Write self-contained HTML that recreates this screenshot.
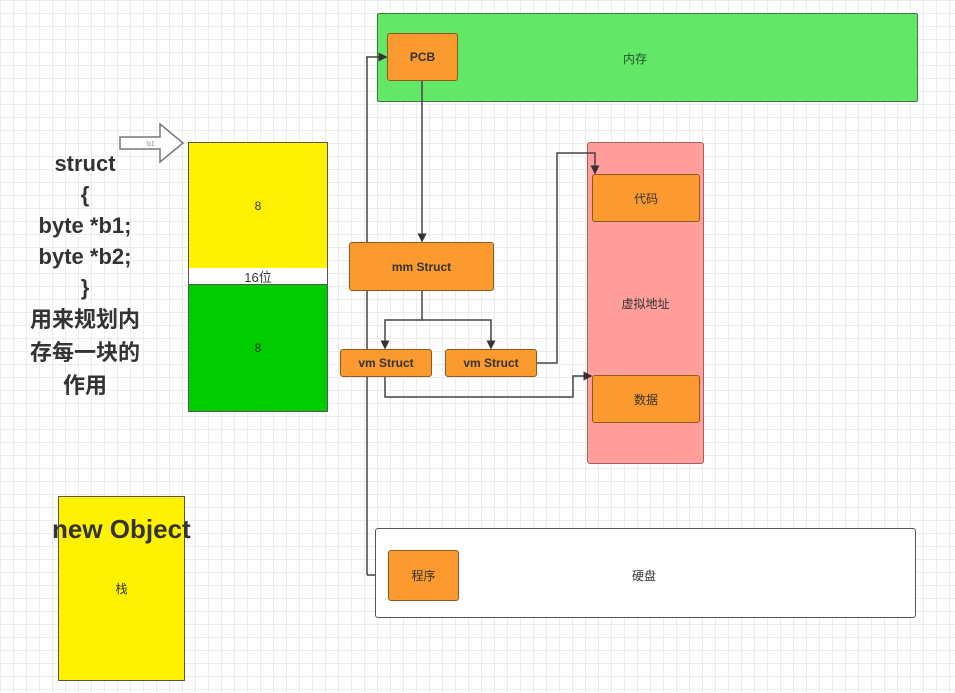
<!DOCTYPE html>
<html><head><meta charset="utf-8"><style>
body{margin:0;width:955px;height:693px;overflow:hidden;background:#fff;
background-image:linear-gradient(#ececec 1px,transparent 1px),linear-gradient(90deg,#ececec 1px,transparent 1px);
background-size:13px 13px;font-family:"Liberation Sans","Noto Sans CJK SC",sans-serif;position:relative}
.b{position:absolute;box-sizing:border-box;display:flex;align-items:center;justify-content:center;font-size:12px;color:#333}
.o{background:#fb9a2e;border:1.5px solid #8a5a20;border-radius:3px;font-weight:bold}
</style></head><body>
<svg width="955" height="693" style="position:absolute;left:0;top:0">
<g fill="none" stroke="#444" stroke-width="1.5">
<path d="M367,575 H387"/>
<path d="M367,575 V57"/>
</g>
</svg>
<div class="b" style="left:377px;top:13px;width:541px;height:89px;background:#62e766;border:1.5px solid #3a7a3a;border-radius:2px"><span style="position:absolute;left:245px;top:36px;color:#225522">内存</span></div>
<div class="b o" style="left:387px;top:33px;width:71px;height:48px">PCB</div>
<div class="b" style="left:587px;top:142px;width:117px;height:322px;background:#ff9e9b;border:1.5px solid #a06060;border-radius:3px">虚拟地址</div>
<div class="b o" style="left:592px;top:174px;width:108px;height:48px;font-weight:normal">代码</div>
<div class="b o" style="left:592px;top:375px;width:108px;height:48px;font-weight:normal">数据</div>
<div class="b o" style="left:349px;top:242px;width:145px;height:49px">mm Struct</div>
<div class="b o" style="left:340px;top:349px;width:92px;height:28px">vm Struct</div>
<div class="b o" style="left:445px;top:349px;width:92px;height:28px">vm Struct</div>
<div class="b" style="left:375px;top:528px;width:541px;height:90px;background:#fff;border:1.5px solid #555;border-radius:3px"><span style="position:absolute;left:256px;top:38px">硬盘</span></div>
<div class="b o" style="left:388px;top:550px;width:71px;height:51px;font-weight:normal">程序</div>
<div class="b" style="left:188px;top:142px;width:140px;height:127px;background:#fff200;border:1.5px solid #555">8</div>
<div class="b" style="left:188px;top:268px;width:140px;height:17px;background:#fff;border-left:1.5px solid #555;border-right:1.5px solid #555;font-size:13px">16位</div>
<div class="b" style="left:188px;top:284px;width:140px;height:128px;background:#00cc00;border:1.5px solid #555">8</div>
<div class="b" style="left:58px;top:496px;width:127px;height:185px;background:#fff200;border:1.5px solid #555">栈</div>
<div style="position:absolute;left:52px;top:514px;font-size:26px;font-weight:bold;color:#333">new Object</div>
<div style="position:absolute;left:0;top:148px;width:170px;text-align:center;font-size:22px;font-weight:bold;color:#333;line-height:31px">struct<br>{<br>byte *b1;<br>byte *b2;<br>}<br><span style="line-height:33px">用来规划内<br>存每一块的<br>作用</span></div>
<svg width="955" height="693" style="position:absolute;left:0;top:0">
<defs><marker id="a" markerWidth="6" markerHeight="6" refX="5" refY="3" orient="auto"><path d="M0,0 L6,3 L0,6z" fill="#333"/></marker></defs>
<g fill="none" stroke="#444" stroke-width="1.5">
<path d="M422,81 V241" marker-end="url(#a)"/>
<path d="M366,57 H386" marker-end="url(#a)"/>
<path d="M422,291 V320 H385 V348" marker-end="url(#a)"/>
<path d="M422,320 H491 V348" marker-end="url(#a)"/>
<path d="M537,363 H557 V153 H595 V173" marker-end="url(#a)"/>
<path d="M385,377 V397 H573 V376 H591" marker-end="url(#a)"/>
</g>
<polygon points="120,137 160,137 160,124 183,143 160,162 160,149 120,149" fill="#fff" stroke="#777" stroke-width="1.5"/>
<text x="147" y="146" font-size="7" fill="#888" font-family="Liberation Sans">b1</text>
</svg>
</body></html>
